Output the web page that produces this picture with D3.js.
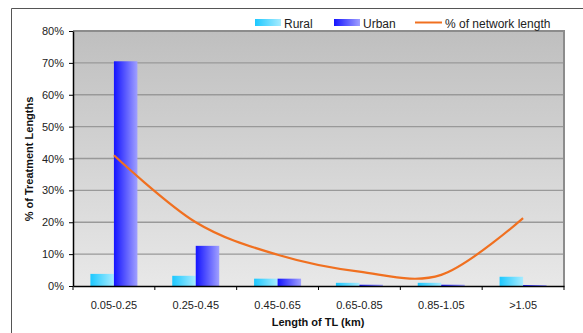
<!DOCTYPE html>
<html>
<head>
<meta charset="utf-8">
<script src="https://cdn.jsdelivr.net/npm/d3@7"></script>
<style>
  html, body { margin: 0; padding: 0; background: #fff; }
  svg { display: block; font-family: Arial, "Liberation Sans", sans-serif; }
</style>
</head>
<body>
<svg id="chart" width="583" height="333"></svg>
<script>
// Treatment length bands and their shares
const categories = ["0.05-0.25", "0.25-0.45", "0.45-0.65", "0.65-0.85", "0.85-1.05", ">1.05"];
const rural = [3.8, 3.2, 2.3, 1.0, 1.0, 2.9];
const urban = [70.5, 12.6, 2.3, 0.4, 0.4, 0.3];
const network = [41.0, 20.0, 9.8, 4.5, 3.5, 21.3];
const yTicks = [0, 10, 20, 30, 40, 50, 60, 70, 80];

const svg = d3.select("#chart");
const m = { left: 73, right: 564, top: 31, bottom: 286 };

const x = d3.scaleBand().domain(categories).range([m.left, m.right]).paddingInner(0).paddingOuter(0);
const y = d3.scaleLinear().domain([0, 80]).range([m.bottom, m.top]);
const bw = 23.5;

const defs = svg.append("defs");
function hGrad(id, a, b) {
  const g = defs.append("linearGradient").attr("id", id).attr("x1", 0).attr("x2", 1).attr("y1", 0).attr("y2", 0);
  g.append("stop").attr("offset", 0).attr("stop-color", a);
  g.append("stop").attr("offset", 1).attr("stop-color", b);
}
hGrad("gRural", "#1cc8ff", "#a8ecff");
hGrad("gUrban", "#1414ff", "#a0a0ff");
const bg = defs.append("linearGradient").attr("id", "gBg").attr("x1", 0).attr("x2", 0).attr("y1", 0).attr("y2", 1);
bg.append("stop").attr("offset", 0).attr("stop-color", "#bfbfbf");
bg.append("stop").attr("offset", 1).attr("stop-color", "#e8e8e8");

// Outer frame
svg.append("path").attr("d", "M11.5,333 V8.5 H583").attr("fill", "none").attr("stroke", "#555").attr("stroke-width", 1);

// Plot background
svg.append("rect").attr("x", m.left).attr("y", m.top).attr("width", m.right - m.left).attr("height", m.bottom - m.top)
  .attr("fill", "url(#gBg)");

// Gridlines
svg.append("g").selectAll("line").data(yTicks.filter(d => d > 0)).join("line")
  .attr("x1", m.left).attr("x2", m.right)
  .attr("y1", d => y(d)).attr("y2", d => y(d))
  .attr("stroke", "#999").attr("stroke-width", 1.4);

// Plot border top / right
svg.append("path").attr("d", `M${m.left},${m.top} H${m.right} V${m.bottom}`)
  .attr("fill", "none").attr("stroke", "#8c8c8c").attr("stroke-width", 2);

// Bars
const gb = svg.append("g");
gb.selectAll("rect.rural").data(categories).join("rect").attr("class", "rural")
  .attr("x", d => x(d) + x.bandwidth() / 2 - bw)
  .attr("width", bw)
  .attr("y", (d, i) => y(rural[i]))
  .attr("height", (d, i) => y(0) - y(rural[i]))
  .attr("fill", "url(#gRural)");
gb.selectAll("rect.urban").data(categories).join("rect").attr("class", "urban")
  .attr("x", d => x(d) + x.bandwidth() / 2)
  .attr("width", bw)
  .attr("y", (d, i) => y(urban[i]))
  .attr("height", (d, i) => y(0) - y(urban[i]))
  .attr("fill", "url(#gUrban)");

// Network share line
const line = d3.line()
  .x((d, i) => x(categories[i]) + x.bandwidth() / 2)
  .y(d => y(d))
  .curve(d3.curveCardinal.tension(0));
svg.append("path").datum(network).attr("d", line)
  .attr("fill", "none").attr("stroke", "#f07020").attr("stroke-width", 2.2);

// Y axis
const yAxis = svg.append("g").attr("transform", `translate(${m.left},0)`)
  .call(d3.axisLeft(y).tickValues(yTicks).tickFormat(d => d + "%").tickSize(4).tickSizeOuter(0));
yAxis.select(".domain").attr("stroke", "#000").attr("stroke-width", 1.5);
yAxis.selectAll(".tick line").attr("stroke", "#000");
yAxis.selectAll(".tick text").attr("font-size", 11).attr("fill", "#222").attr("x", -9)
  .attr("font-family", "Arial, 'Liberation Sans', sans-serif");

// X axis
const xAxis = svg.append("g").attr("transform", `translate(0,${m.bottom})`)
  .call(d3.axisBottom(x).tickSize(0).tickSizeOuter(0));
xAxis.select(".domain").attr("stroke", "#000").attr("stroke-width", 1.5);
xAxis.selectAll(".tick text").attr("font-size", 11).attr("fill", "#222").attr("dy", 0).attr("y", 23)
  .attr("font-family", "Arial, 'Liberation Sans', sans-serif");
// Boundary ticks between bands
const bounds = categories.map(c => x(c)).concat([m.right]);
xAxis.selectAll("line.bt").data(bounds).join("line").attr("class", "bt")
  .attr("x1", d => d).attr("x2", d => d).attr("y1", 0).attr("y2", 4)
  .attr("stroke", "#000").attr("stroke-width", 1);

// Axis titles
svg.append("text").attr("transform", "translate(33,159) rotate(-90)")
  .attr("text-anchor", "middle").attr("font-size", 11).attr("font-weight", "bold").attr("fill", "#111")
  .text("% of Treatment Lengths");
svg.append("text").attr("x", 318).attr("y", 326)
  .attr("text-anchor", "middle").attr("font-size", 11).attr("font-weight", "bold").attr("fill", "#111")
  .text("Length of TL (km)");

// Legend
const lg = svg.append("g").attr("font-size", 12).attr("fill", "#222");
lg.append("rect").attr("x", 255).attr("y", 19).attr("width", 26).attr("height", 7).attr("fill", "url(#gRural)");
lg.append("text").attr("x", 284).attr("y", 28).text("Rural");
lg.append("rect").attr("x", 334).attr("y", 19).attr("width", 26).attr("height", 7).attr("fill", "url(#gUrban)");
lg.append("text").attr("x", 363).attr("y", 28).text("Urban");
lg.append("line").attr("x1", 415).attr("x2", 442).attr("y1", 22.5).attr("y2", 22.5)
  .attr("stroke", "#f07020").attr("stroke-width", 2);
lg.append("text").attr("x", 445).attr("y", 28).text("% of network length");
</script>
</body>
</html>
